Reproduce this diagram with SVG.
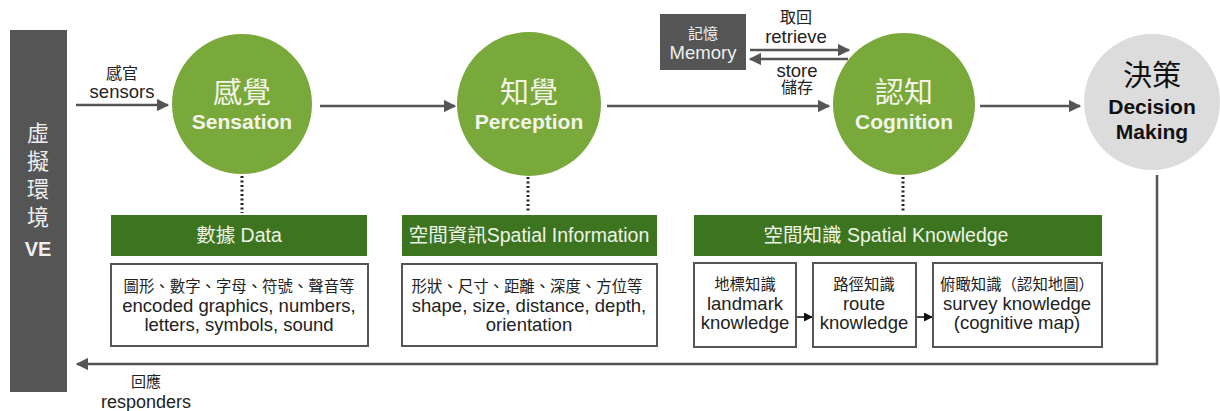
<svg xmlns="http://www.w3.org/2000/svg" width="1220" height="411" viewBox="0 0 1220 411">
<defs>
<style>
text{font-family:"Liberation Sans","Noto Sans CJK TC",sans-serif;text-anchor:middle}
.conn{stroke:#555;stroke-width:2.5;fill:none}
.thin{stroke:#111;stroke-width:1.5;fill:none}
.dot{stroke:#222;stroke-width:3;stroke-dasharray:2 2.5;fill:none}
.gc{fill:#78a93a}
.hdr{fill:#3c7420}
.box{fill:#fff;stroke:#555;stroke-width:2}
.ct{fill:#f4f4ea;font-size:29px}
.ce{fill:#f4f4ea;font-size:21px;font-weight:bold}
.ht{fill:#eef3e6;font-size:19.5px}
.bc{fill:#222;font-size:15.4px}
.be{fill:#222;font-size:18.5px}
.lab{fill:#222;font-size:16px}
.labe{fill:#222;font-size:18.5px}
</style>
<marker id="ah" viewBox="0 0 10 10" refX="9" refY="5" markerWidth="5" markerHeight="5" orient="auto-start-reverse"><path d="M0,0 L10,5 L0,10 z" fill="#555"/></marker>
<marker id="ah2" viewBox="0 0 10 10" refX="9" refY="5" markerWidth="6" markerHeight="6" orient="auto"><path d="M0,0 L10,5 L0,10 z" fill="#111"/></marker>
</defs>

<g id="connectors">
<line class="conn" x1="76" y1="105" x2="168" y2="105" marker-end="url(#ah)"/>
<line class="conn" x1="320" y1="106" x2="455" y2="106" marker-end="url(#ah)"/>
<line class="conn" x1="607" y1="106" x2="829" y2="106" marker-end="url(#ah)"/>
<line class="conn" x1="980" y1="106" x2="1080" y2="106" marker-end="url(#ah)"/>
<line class="conn" x1="750" y1="50" x2="849" y2="50" marker-end="url(#ah)"/>
<line class="conn" x1="848" y1="59" x2="750" y2="59" marker-end="url(#ah)"/>
<polyline class="conn" points="1157,175 1157,364 77,364" marker-end="url(#ah)"/>
<line class="dot" x1="242" y1="176" x2="242" y2="213"/>
<line class="dot" x1="528" y1="177" x2="528" y2="213"/>
<line class="dot" x1="903" y1="177" x2="903" y2="213"/>
<line class="thin" x1="796" y1="317" x2="812" y2="317" marker-end="url(#ah2)"/>
<line class="thin" x1="916" y1="317" x2="932" y2="317" marker-end="url(#ah2)"/>
<text class="lab" x="122" y="79">感官</text>
<text class="labe" x="122" y="98">sensors</text>
<text class="lab" x="796" y="23">取回</text>
<text class="labe" x="796" y="43">retrieve</text>
<text class="labe" x="797" y="77">store</text>
<text class="lab" x="797" y="93">儲存</text>
<text class="lab" x="146" y="387" style="font-size:15px">回應</text>
<text class="labe" x="146" y="408" style="font-size:18px">responders</text>
</g>

<g id="ve">
<rect x="10" y="30" width="57" height="362" fill="#555"/>
<text x="38" y="141" style="font-size:22px;fill:#eee">虛</text>
<text x="38" y="169" style="font-size:22px;fill:#eee">擬</text>
<text x="38" y="197" style="font-size:22px;fill:#eee">環</text>
<text x="38" y="225" style="font-size:22px;fill:#eee">境</text>
<text x="38" y="256" style="font-size:20px;fill:#eee;font-weight:bold">VE</text>
</g>

<g id="memory">
<rect x="660" y="14" width="86" height="56" fill="#555"/>
<text x="703" y="39" style="font-size:15px;fill:#eee">記憶</text>
<text x="703" y="59" style="font-size:18.5px;fill:#eee">Memory</text>
</g>

<g id="sensation">
<circle class="gc" cx="242" cy="104" r="70"/>
<text class="ct" x="242" y="103">感覺</text>
<text class="ce" x="242" y="129">Sensation</text>
</g>

<g id="perception">
<circle class="gc" cx="529" cy="104" r="72"/>
<text class="ct" x="529" y="103">知覺</text>
<text class="ce" x="529" y="129">Perception</text>
</g>

<g id="cognition">
<circle class="gc" cx="904" cy="104" r="71"/>
<text class="ct" x="904" y="103">認知</text>
<text class="ce" x="904" y="129">Cognition</text>
</g>

<g id="decision">
<circle cx="1152" cy="102" r="68" fill="#dcdcdc"/>
<text x="1152" y="86" style="font-size:29px;fill:#111">決策</text>
<text x="1152" y="114" style="font-size:21px;font-weight:bold;fill:#111">Decision</text>
<text x="1152" y="139" style="font-size:21px;font-weight:bold;fill:#111">Making</text>
</g>

<g id="data">
<rect class="hdr" x="111" y="215" width="256" height="41"/>
<text class="ht" x="239" y="242">數據 Data</text>
<rect class="box" x="111" y="264" width="257" height="82"/>
<text class="bc" x="239" y="292">圖形、數字、字母、符號、聲音等</text>
<text class="be" x="239" y="312">encoded graphics, numbers,</text>
<text class="be" x="239" y="331">letters, symbols, sound</text>
</g>

<g id="spatial-information">
<rect class="hdr" x="402" y="215" width="255" height="41"/>
<text class="ht" x="529" y="242">空間資訊Spatial Information</text>
<rect class="box" x="402" y="264" width="255" height="82"/>
<text class="bc" x="527" y="292">形狀、尺寸、距離、深度、方位等</text>
<text class="be" x="529" y="312">shape, size, distance, depth,</text>
<text class="be" x="529" y="331">orientation</text>
</g>

<g id="spatial-knowledge">
<rect class="hdr" x="694" y="215" width="408" height="41"/>
<text class="ht" x="886" y="242">空間知識 Spatial Knowledge</text>
</g>

<g id="landmark">
<rect class="box" x="694" y="263" width="102" height="84"/>
<text class="bc" x="745" y="290">地標知識</text>
<text class="be" x="745" y="310">landmark</text>
<text class="be" x="745" y="329">knowledge</text>
</g>

<g id="route">
<rect class="box" x="813" y="263" width="103" height="84"/>
<text class="bc" x="864" y="290">路徑知識</text>
<text class="be" x="864" y="310">route</text>
<text class="be" x="864" y="329">knowledge</text>
</g>

<g id="survey">
<rect class="box" x="933" y="263" width="169" height="84"/>
<text class="bc" x="1017" y="290">俯瞰知識（認知地圖）</text>
<text class="be" x="1017" y="310">survey knowledge</text>
<text class="be" x="1017" y="329">(cognitive map)</text>
</g>
</svg>
